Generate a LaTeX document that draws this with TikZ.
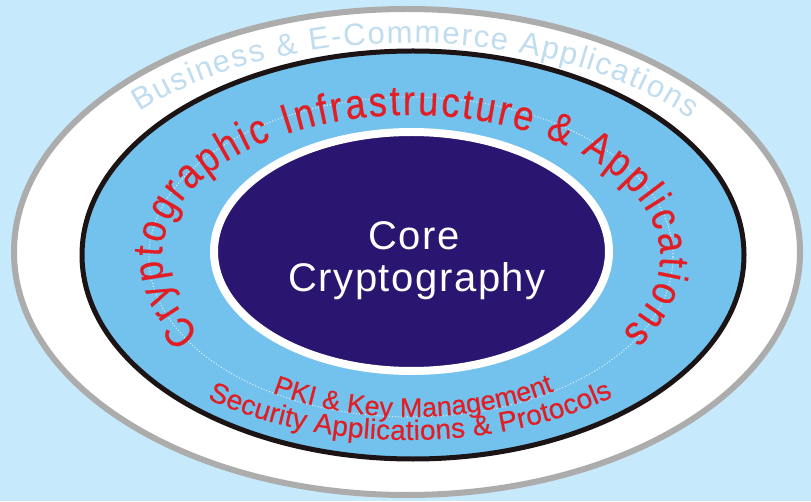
\documentclass[tikz,border=0pt]{standalone}
\usepackage{fontspec}
\setmainfont{Liberation Sans}
\newfontfamily\redfont[FakeStretch=0.86,FakeBold=0.4]{Liberation Sans}
\newfontfamily\redsmallfont[FakeBold=0.4]{Liberation Sans}
\newfontfamily\corefont[LetterSpace=4]{Liberation Sans}
\usetikzlibrary{decorations.text}
\definecolor{bgblue}{RGB}{198,233,251}
\definecolor{ringgray}{RGB}{172,172,172}
\definecolor{ringblack}{RGB}{28,20,20}
\definecolor{midblue}{RGB}{115,194,238}
\definecolor{coreblue}{RGB}{42,22,112}
\definecolor{cryptred}{RGB}{226,30,36}
\definecolor{bizcolor}{RGB}{192,221,240}
\newcommand\bizfmt{\fontsize{31pt}{31pt}\selectfont\color{bizcolor}}
\newcommand\redfmtbig{\redfont\fontsize{42pt}{42pt}\selectfont\color{cryptred}}
\newcommand\redfmtpki{\redsmallfont\fontsize{27pt}{27pt}\selectfont\color{cryptred}}
\newcommand\redfmtsec{\redsmallfont\fontsize{28pt}{28pt}\selectfont\color{cryptred}}
\tikzset{
  outerring/.style={draw=ringgray, line width=6pt, fill=white},
  midring/.style={draw=ringblack, line width=5pt, fill=midblue},
  corering/.style={draw=white, line width=8pt, fill=coreblue},
  guide/.style={draw=white, dotted, line width=1pt, opacity=0.8},
  curvedtext/.style={decorate, decoration={text along path, text align={fit to path}, text={#1}}},
  coretext/.style={text=white, font=\corefont\fontsize{40pt}{40pt}\selectfont, inner sep=0pt, anchor=base}
}
\begin{document}
\begin{tikzpicture}[x=1pt,y=1pt]
\useasboundingbox (0,0) rectangle (811,501);
\fill[bgblue] (0,0) rectangle (811,501);
% outer band
\draw[outerring] (407,249) ellipse[x radius=393pt, y radius=243pt];
\path[curvedtext={|\bizfmt|Business {\&} E-Commerce Applications}]
  (410,246) ++(137.6:366pt and 212pt) arc[start angle=137.6, end angle=40, x radius=366pt, y radius=212pt];
% middle band
\draw[midring] (413,246) ellipse[x radius=331pt, y radius=204pt];
\draw[guide] (411,244) ellipse[x radius=262pt, y radius=160pt];
% core
\draw[corering] (411.5,249.5) ellipse[x radius=197.5pt, y radius=119.5pt];
\node[coretext] (core1) at (414,251) {Core};
\node[coretext] (core2) at (417,209) {Cryptography};
% red curved texts
\path[curvedtext={|\redfmtbig|Cryptographic Infrastructure {\&} Applications}]
  (411,244) ++(212:249pt and 142pt) arc[start angle=212, end angle=-32, x radius=249pt, y radius=142pt];
\path[curvedtext={|\redfmtpki|PKI {\&} Key Management}]
  (411,244) ++(238:262pt and 160pt) arc[start angle=238, end angle=303, x radius=262pt, y radius=160pt];
\path[curvedtext={|\redfmtsec|Security Applications {\&} Protocols}]
  (408,261) ++(232.5:330pt and 200pt) arc[start angle=232.5, end angle=308.4, x radius=330pt, y radius=200pt];
\end{tikzpicture}
\end{document}
